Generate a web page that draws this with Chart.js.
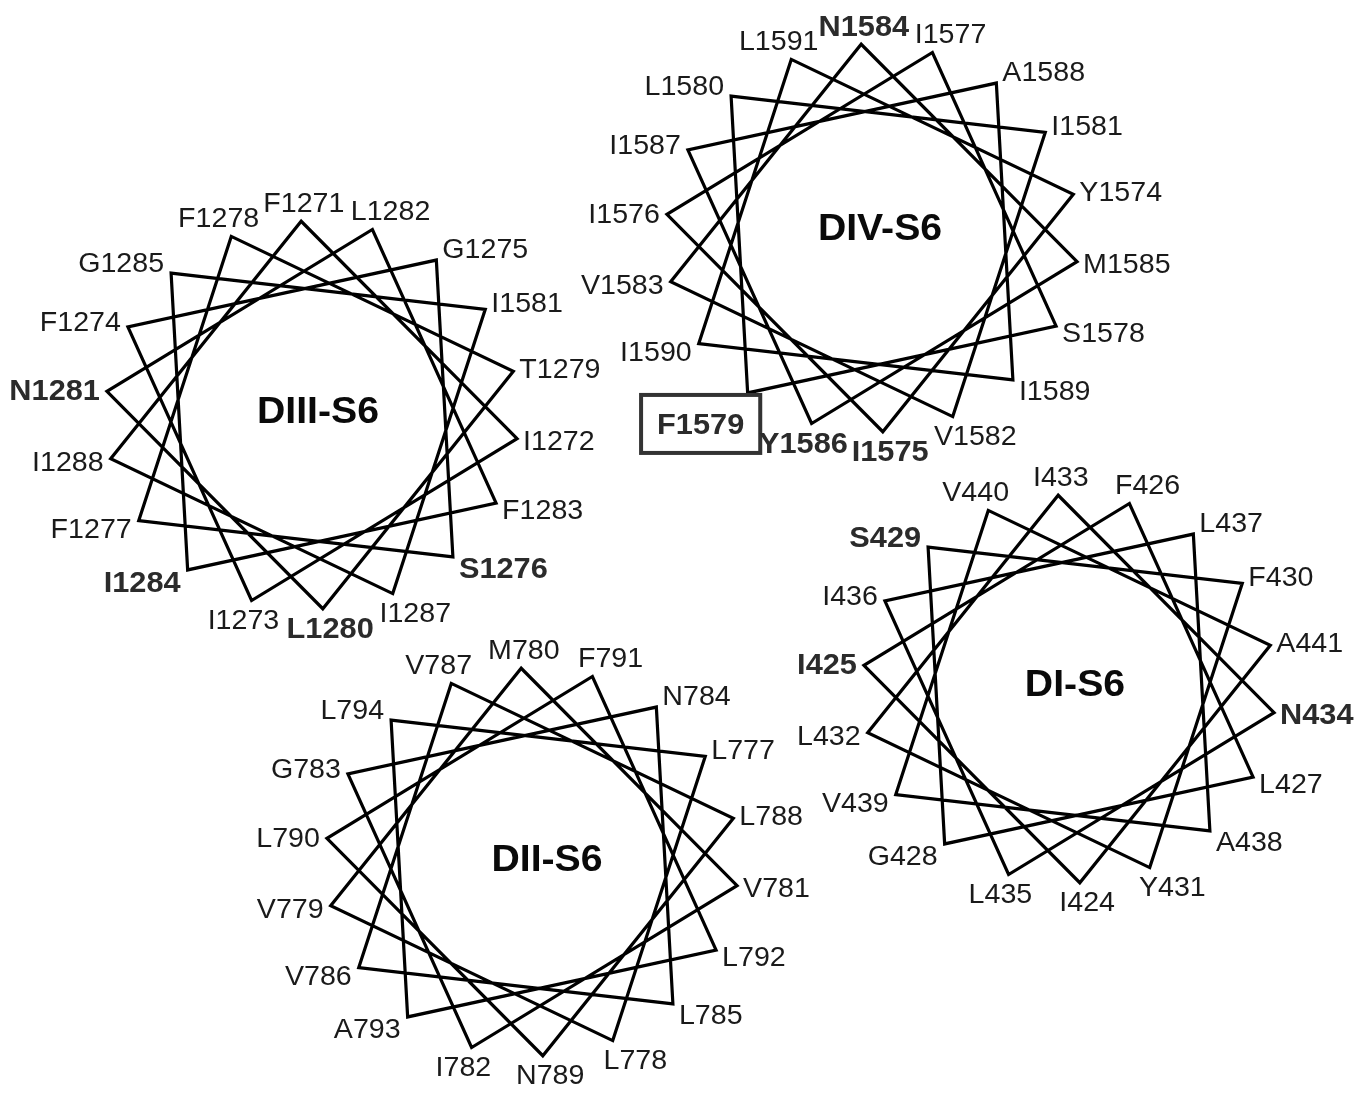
<!DOCTYPE html>
<html>
<head>
<meta charset="utf-8">
<script src="https://cdn.jsdelivr.net/npm/chart.js@4.4.1/dist/chart.umd.min.js"></script>
<style>
  html, body { margin: 0; padding: 0; background: #fff; }
  #wheels { display: block; }
</style>
</head>
<body>
<canvas id="wheels" width="1372" height="1093"></canvas>
<script>
// residues of each S6 segment, in sequence order
const DIV_RESIDUES = ['Y1574','I1575','I1576','I1577','S1578','F1579','L1580','I1581','V1582',
                      'V1583','N1584','M1585','Y1586','I1587','A1588','I1589','I1590','L1591'];
const DIII_RESIDUES = ['F1271','I1272','I1273','F1274','G1275','S1276','F1277','F1278','T1279',
                       'L1280','N1281','L1282','F1283','I1284','G1285','I1581','I1287','I1288'];
const DII_RESIDUES = ['L777','L778','V779','M780','V781','I782','G783','N784','L785',
                      'V786','V787','L788','N789','L790','F791','L792','A793','L794'];
const DI_RESIDUES = ['I424','I425','F426','L427','G428','S429','F430','Y431','L432',
                     'I433','N434','L435','I436','L437','A438','V439','V440','A441'];
const WHEEL_TITLES = ['DIV-S6', 'DIII-S6', 'DII-S6', 'DI-S6'];
const BOLD_RESIDUES = ['N1584','Y1586','I1575','F1579','N1281','I1284','L1280','S1276',
                       'S429','I425','N434'];
const BOXED_RESIDUES = ['F1579'];

const HELIX_STEP = 100;   // degrees per residue in an alpha helix

// layout: where each wheel sits and where its first residue points
const wheels = [
  { title: WHEEL_TITLES[0], residues: DIV_RESIDUES,  cx: 872,  cy: 238, start: 77,  tdx: 8,  tdy: -11 },
  { title: WHEEL_TITLES[1], residues: DIII_RESIDUES, cx: 312,  cy: 415, start: -3,  tdx: 6,  tdy: -5 },
  { title: WHEEL_TITLES[2], residues: DII_RESIDUES,  cx: 532,  cy: 862, start: 57,  tdx: 15, tdy: -4 },
  { title: WHEEL_TITLES[3], residues: DI_RESIDUES,   cx: 1069, cy: 689, start: 177, tdx: 6,  tdy: -6 }
];
const RADIUS = 194;
const X_STRETCH = 1.065;
const TEXT_STRETCH = 1.06;
const FONT_FAMILY = "'Liberation Sans', Arial, Helvetica, sans-serif";
const LABEL_SIZE = 27, BOLD_SIZE = 29, TITLE_SIZE = 37;

function wheelPoints(w) {
  const pts = w.residues.map(function(res, i) {
    const a = (w.start + HELIX_STEP * i) * Math.PI / 180;
    return { x: w.cx + RADIUS * X_STRETCH * Math.sin(a), y: w.cy - RADIUS * Math.cos(a), angle: a };
  });
  // close the star, repeating one more segment so the last corner gets a proper join
  return pts.concat([pts[0], pts[1]]);
}

function drawText(ctx, text, x, yMid, align, size, bold, color) {
  ctx.save();
  ctx.font = (bold ? 'bold ' : '') + size + 'px ' + FONT_FAMILY;
  ctx.fillStyle = color;
  ctx.textAlign = align;
  ctx.textBaseline = 'alphabetic';
  ctx.translate(x, yMid + size * 0.358);
  ctx.scale(TEXT_STRETCH, 1);
  ctx.fillText(text, 0, 0);
  const w = ctx.measureText(text).width * TEXT_STRETCH;
  ctx.restore();
  return w;
}

function drawLabel(ctx, res, vx, vy, a) {
  const s = Math.sin(a), c = Math.cos(a);
  const bold = BOLD_RESIDUES.indexOf(res) >= 0;
  const size = bold ? BOLD_SIZE : LABEL_SIZE;
  const color = bold ? '#2b2b2b' : '#1a1a1a';
  const dy = -12 * c - 4 * c * c * c;

  if (BOXED_RESIDUES.indexOf(res) >= 0) {
    const tx = vx - 47, ty = vy + 31;
    const tw = drawText(ctx, res, tx, ty, 'center', size, bold, color);
    ctx.save();
    ctx.strokeStyle = '#333';
    ctx.lineWidth = 4;
    ctx.strokeRect(tx - tw / 2 - 16, ty - 29, tw + 32, 58);
    ctx.restore();
    return;
  }
  if (s > 0.5) {
    drawText(ctx, res, vx + 6, vy + dy, 'left', size, bold, color);
  } else if (s < -0.5) {
    drawText(ctx, res, vx - 7, vy + dy, 'right', size, bold, color);
  } else {
    drawText(ctx, res, vx + 5 + 45 * s, vy + (c > 0 ? -19 : 19), 'center', size, bold, color);
  }
}

const labelPlugin = {
  id: 'wheelLabels',
  afterDatasetsDraw(chart) {
    const ctx = chart.ctx;
    const xs = chart.scales.x, ys = chart.scales.y;
    chart.data.datasets.forEach(function(ds, d) {
      const w = wheels[d];
      const meta = chart.getDatasetMeta(d);
      w.residues.forEach(function(res, i) {
        const el = meta.data[i];
        drawLabel(ctx, res, el.x, el.y, ds.data[i].angle);
      });
      drawText(ctx, w.title, xs.getPixelForValue(w.cx + w.tdx), ys.getPixelForValue(w.cy + w.tdy),
               'center', TITLE_SIZE, true, '#0a0a0a');
    });
  }
};

new Chart(document.getElementById('wheels').getContext('2d'), {
  type: 'scatter',
  data: {
    datasets: wheels.map(function(w) {
      return {
        label: w.title,
        data: wheelPoints(w),
        showLine: true,
        borderColor: '#000',
        borderWidth: 3.2,
        borderJoinStyle: 'miter',
        borderCapStyle: 'butt',
        pointRadius: 0,
        pointHoverRadius: 0,
        tension: 0,
        fill: false
      };
    })
  },
  options: {
    responsive: false,
    devicePixelRatio: 1,
    animation: false,
    events: [],
    layout: { padding: 0 },
    plugins: { legend: { display: false }, tooltip: { enabled: false } },
    scales: {
      x: { type: 'linear', min: 0, max: 1372, display: false },
      y: { type: 'linear', min: 0, max: 1093, reverse: true, display: false }
    }
  },
  plugins: [labelPlugin]
});
</script>
</body>
</html>
